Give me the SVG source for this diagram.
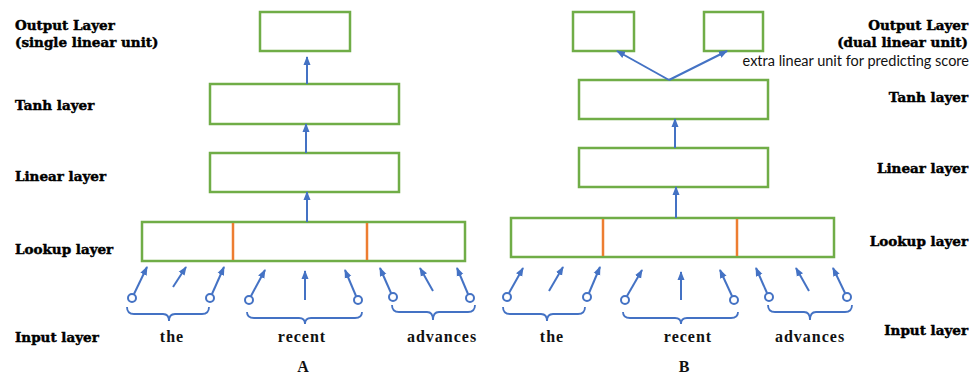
<svg xmlns="http://www.w3.org/2000/svg" width="979" height="375" viewBox="0 0 979 375">
<defs>
<marker id="ah" markerUnits="userSpaceOnUse" markerWidth="9" markerHeight="9" refX="8" refY="4.5" orient="auto">
<path d="M0,1 L9,4.5 L0,8 Z" fill="#4472C4"/>
</marker>
<style>
.box{fill:#fff;stroke:#70AD47;stroke-width:2.5}
.div{stroke:#ED7D31;stroke-width:2.5}
.arr{stroke:#4472C4;stroke-width:2;fill:none;marker-end:url(#ah)}
.circ{fill:#fff;stroke:#4472C4;stroke-width:2}
.brace{fill:none;stroke:#4472C4;stroke-width:1.8}
.lbl{font-family:"DejaVu Serif",serif;font-weight:bold;font-size:13.5px;fill:#000;stroke:#000;stroke-width:0.45}
.word{font-family:"Liberation Serif",serif;font-weight:bold;font-size:16px;fill:#111;letter-spacing:1px}
.note{font-family:"Lato","Liberation Sans",sans-serif;font-size:14.5px;fill:#111}
.r{text-anchor:end}
.m{text-anchor:middle}
</style>
</defs>
<rect width="979" height="375" fill="#fff"/>

<g id="labels-A">
<text class="lbl" x="15" y="30">Output Layer</text>
<text class="lbl" x="15" y="47">(single linear unit)</text>
<text class="lbl" x="15" y="110">Tanh layer</text>
<text class="lbl" x="15" y="181">Linear layer</text>
<text class="lbl" x="15" y="254">Lookup layer</text>
<text class="lbl" x="15" y="342">Input layer</text>
</g>
<g id="labels-B">
<text class="lbl r" x="968" y="30">Output Layer</text>
<text class="lbl r" x="968" y="47">(dual linear unit)</text>
<text class="note r" x="969" y="66">extra linear unit for predicting score</text>
<text class="lbl r" x="968" y="102">Tanh layer</text>
<text class="lbl r" x="968" y="173">Linear layer</text>
<text class="lbl r" x="968" y="246">Lookup layer</text>
<text class="lbl r" x="968" y="335">Input layer</text>
</g>

<!-- Diagram A nodes -->
<g id="A-output"><rect class="box" x="260" y="12" width="90" height="39"/></g>
<g id="A-tanh"><rect class="box" x="210" y="84" width="189" height="40"/></g>
<g id="A-linear"><rect class="box" x="210" y="153" width="189" height="39"/></g>
<g id="A-lookup">
<rect class="box" x="142" y="222" width="323" height="39"/>
<line class="div" x1="233" y1="223" x2="233" y2="260"/>
<line class="div" x1="367" y1="223" x2="367" y2="260"/>
</g>
<g id="A-inputs">
<circle class="circ" cx="132" cy="298" r="4"/>
<circle class="circ" cx="210" cy="298" r="4"/>
<circle class="circ" cx="249" cy="300" r="4"/>
<circle class="circ" cx="358" cy="300" r="4"/>
<circle class="circ" cx="393" cy="297" r="4"/>
<circle class="circ" cx="470" cy="298" r="4"/>
<path class="brace" d="M127,307 Q127,314 134,314 L163,314 Q169,314 169,321 Q169,314 175,314 L202,314 Q209,314 209,307"/>
<path class="brace" d="M247,312 Q247,318 254,318 L299,318 Q305,318 305,324 Q305,318 311,318 L355,318 Q362,318 362,312"/>
<path class="brace" d="M392,305 Q392,312 399,312 L427,312 Q433,312 433,320 Q433,312 439,312 L468,312 Q475,312 475,305"/>
<text class="word m" x="172" y="342">the</text>
<text class="word m" x="302" y="342">recent</text>
<text class="word m" x="442" y="342">advances</text>
<text class="word m" x="303" y="372" style="letter-spacing:0">A</text>
</g>

<!-- Diagram B nodes -->
<g id="B-output1"><rect class="box" x="573" y="12" width="61" height="39"/></g>
<g id="B-output2"><rect class="box" x="704" y="12" width="59" height="39"/></g>
<g id="B-tanh"><rect class="box" x="579" y="80" width="189" height="39"/></g>
<g id="B-linear"><rect class="box" x="579" y="148" width="189" height="39"/></g>
<g id="B-lookup">
<rect class="box" x="511" y="218" width="323" height="39"/>
<line class="div" x1="603" y1="219" x2="603" y2="256"/>
<line class="div" x1="737" y1="219" x2="737" y2="256"/>
</g>
<g id="B-inputs">
<circle class="circ" cx="507" cy="297" r="4"/>
<circle class="circ" cx="587" cy="297" r="4"/>
<circle class="circ" cx="625" cy="300" r="4"/>
<circle class="circ" cx="734" cy="300" r="4"/>
<circle class="circ" cx="769" cy="297" r="4"/>
<circle class="circ" cx="847" cy="297" r="4"/>
<path class="brace" d="M503,307 Q503,314 510,314 L541,314 Q547,314 547,321 Q547,314 553,314 L578,314 Q585,314 585,307"/>
<path class="brace" d="M623,312 Q623,318 630,318 L675,318 Q681,318 681,324 Q681,318 687,318 L731,318 Q738,318 738,312"/>
<path class="brace" d="M768,305 Q768,312 775,312 L804,312 Q810,312 810,320 Q810,312 816,312 L845,312 Q852,312 852,305"/>
<text class="word m" x="552" y="342">the</text>
<text class="word m" x="688" y="342">recent</text>
<text class="word m" x="810" y="342">advances</text>
<text class="word m" x="684" y="372" style="letter-spacing:0">B</text>
</g>

<g id="connectors">
<line class="arr" x1="307" y1="84" x2="307" y2="57"/>
<line class="arr" x1="306" y1="153" x2="306" y2="124"/>
<line class="arr" x1="307" y1="222" x2="307" y2="192"/>
<line class="arr" x1="134" y1="294" x2="147" y2="267"/>
<line class="arr" x1="173" y1="287" x2="186" y2="267"/>
<line class="arr" x1="212" y1="294" x2="224" y2="267"/>
<line class="arr" x1="251" y1="296" x2="265" y2="270"/>
<line class="arr" x1="305" y1="300" x2="305" y2="271"/>
<line class="arr" x1="356" y1="296" x2="345" y2="270"/>
<line class="arr" x1="391" y1="293" x2="380" y2="268"/>
<line class="arr" x1="433" y1="291" x2="420" y2="268"/>
<line class="arr" x1="468" y1="294" x2="457" y2="268"/>

<line class="arr" x1="669" y1="80" x2="617" y2="51"/>
<line class="arr" x1="669" y1="80" x2="727" y2="51"/>
<line class="arr" x1="675" y1="148" x2="675" y2="119"/>
<line class="arr" x1="676" y1="218" x2="676" y2="187"/>
<line class="arr" x1="509" y1="293" x2="523" y2="268"/>
<line class="arr" x1="549" y1="291" x2="563" y2="267"/>
<line class="arr" x1="589" y1="293" x2="600" y2="267"/>
<line class="arr" x1="627" y1="296" x2="642" y2="270"/>
<line class="arr" x1="681" y1="300" x2="681" y2="272"/>
<line class="arr" x1="732" y1="296" x2="720" y2="270"/>
<line class="arr" x1="767" y1="293" x2="756" y2="268"/>
<line class="arr" x1="809" y1="291" x2="796" y2="268"/>
<line class="arr" x1="845" y1="293" x2="833" y2="268"/>
</g>
</svg>
